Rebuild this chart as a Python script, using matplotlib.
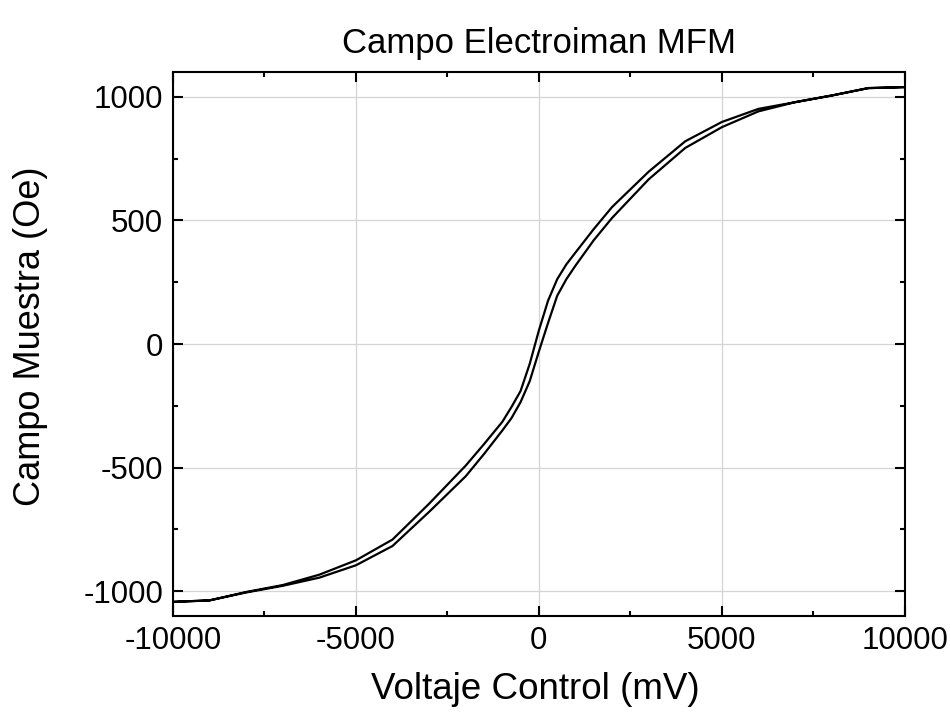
import matplotlib
matplotlib.use('Agg')
import matplotlib.pyplot as plt
from matplotlib.ticker import MultipleLocator

plt.rcParams['font.family'] = ['Liberation Sans', 'DejaVu Sans']
plt.rcParams['axes.unicode_minus'] = False

# voltage points (mV)
volts = [-10000, -9000, -8000, -7000, -6000, -5000, -4000, -3000, -2000,
         -1500, -1000, -750, -500, -250, 0, 250, 500, 750, 1000, 1500,
         2000, 3000, 4000, 5000, 6000, 7000, 8000, 9000, 10000]

# branch going up (lags, lower curve)
campo_subida = [-1043, -1037, -1005, -978, -945, -895, -817, -679, -535,
                -445, -350, -300, -235, -150, -30, 85, 195, 262, 317, 420,
                510, 666, 793, 877, 941, 978, 1005, 1035, 1039]

# branch coming down (upper curve)
campo_bajada = [-1043, -1037, -1003, -975, -933, -875, -791, -646, -492,
                -405, -315, -255, -190, -80, 55, 175, 262, 322, 370, 465,
                554, 697, 820, 898, 951, 978, 1005, 1035, 1039]

# one closed loop: up along one branch, back down along the other
x = volts + volts[::-1]
y = campo_subida + campo_bajada[::-1]

fig = plt.figure(figsize=(9.5, 7.16), dpi=100)
ax = fig.add_axes([0.182, 0.1397, 0.7705, 0.7597])

ax.plot(x, y, color='black', lw=1.6, solid_joinstyle='round')

ax.set_xlim(-10000, 10000)
ax.set_ylim(-1100, 1100)
ax.xaxis.set_major_locator(MultipleLocator(5000))
ax.xaxis.set_minor_locator(MultipleLocator(2500))
ax.yaxis.set_major_locator(MultipleLocator(500))
ax.yaxis.set_minor_locator(MultipleLocator(250))

ax.grid(True, which='major', color='#d4d4d4', lw=0.9)
ax.set_axisbelow(True)

ax.tick_params(which='both', direction='in', top=True, right=True, width=1.5,
               labelsize=22.5, pad=7)
ax.tick_params(which='major', length=7)
ax.tick_params(which='minor', length=3.5)
for s in ax.spines.values():
    s.set_linewidth(1.5)

ax.set_xlabel('Voltaje Control (mV)', fontsize=26.5)
ax.set_ylabel('Campo Muestra (Oe)', fontsize=26)
ax.xaxis.set_label_coords(0.495, -0.103)
ax.yaxis.set_label_coords(-0.1705, 0.515)
ax.set_title('Campo Electroiman MFM', fontsize=25, pad=14)

fig.savefig('out.png', dpi=100)
